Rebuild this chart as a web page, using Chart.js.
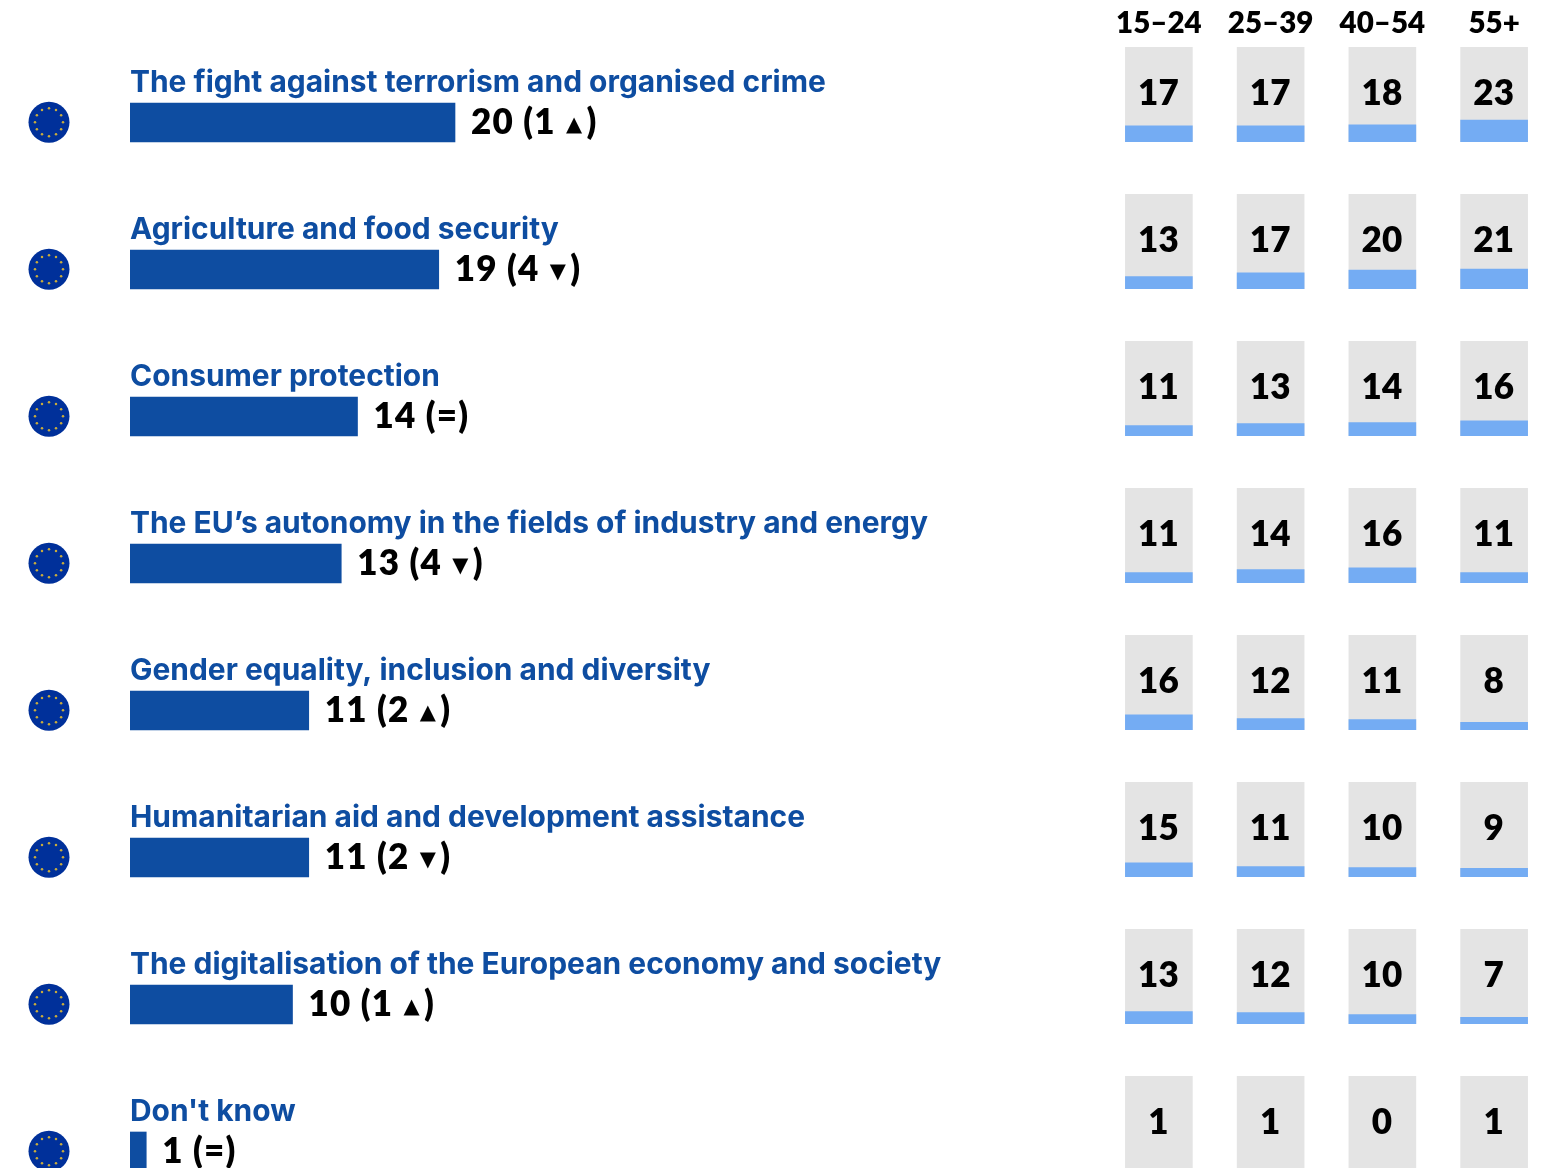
<!DOCTYPE html>
<html><head><meta charset="utf-8">
<style>
html,body{margin:0;padding:0;width:1542px;height:1168px;overflow:hidden;background:#fff}
canvas{position:absolute;display:block}
#wrap{position:relative;width:1542px;height:1168px;overflow:hidden}
</style>
<script src="https://cdn.jsdelivr.net/npm/chart.js@4"></script>
</head><body><div id="wrap"></div>
<script>
const categories=["The fight against terrorism and organised crime","Agriculture and food security","Consumer protection","The EU’s autonomy in the fields of industry and energy","Gender equality, inclusion and diversity","Humanitarian aid and development assistance","The digitalisation of the European economy and society","Don't know"];
const totals=[20,19,14,13,11,11,10,1];
const changes=[1,4,null,4,2,2,1,null];
const directions=["▲","▼","=","▼","▲","▼","▲","="];
const ageGroups=["15–24","25–39","40–54","55+"];
const age1524=[17,13,11,11,16,15,13,1];
const age2539=[17,17,13,14,12,11,12,1];
const age4054=[18,20,14,16,11,10,10,0];
const age55=[23,21,16,11,8,9,7,1];
const full=[100,100,100,100];
const TITLE='Inter, sans-serif', NUM='Lato, sans-serif';
const BLUE='#0e4da1',LIGHT='#74acf3',GREY='#e4e4e4';
Chart.defaults.animation=false;
Chart.defaults.font.family=NUM;
const wrap=document.getElementById('wrap');
function mk(l,t,w,h){const c=document.createElement('canvas');c.style.left=l+'px';c.style.top=t+'px';c.style.width=w+'px';c.style.height=h+'px';c.width=w;c.height=h;wrap.appendChild(c);return c;}

const rowDeco={id:'rowDeco',afterDatasetsDraw(ch){
  const c=ch.ctx,xs=ch.scales.x,ys=ch.scales.y;
  categories.forEach((lab,i)=>{
    const y=ys.getPixelForValue(i);
    c.save();
    const fx=49,fy=y-0.3;
    c.fillStyle='#00309a';c.beginPath();c.arc(fx,fy,20.5,0,Math.PI*2);c.fill();
    c.fillStyle='#c9ac3c';
    for(let k=0;k<12;k++){const a=k*Math.PI/6;c.beginPath();c.arc(fx+14*Math.cos(a),fy+14*Math.sin(a),1.25,0,Math.PI*2);c.fill();}
    c.textBaseline='alphabetic';c.textAlign='left';
    c.font='700 29.95px '+TITLE;c.fillStyle=BLUE;
    c.fillText(lab,xs.getPixelForValue(0),y-30.5);
    let x=xs.getPixelForValue(totals[i])+16;
    c.fillStyle='#000';
    const big='800 35px '+NUM, small='700 21px "DejaVu Sans"';
    const tb=y+11;
    c.letterSpacing='1.2px';
    c.font=big;
    let s=totals[i]+' (';
    if(changes[i]===null) s+='=)';
    else s+=changes[i]+' ';
    c.fillText(s,x,tb);x+=c.measureText(s).width;
    if(changes[i]!==null){
      c.font=small;c.fillText(directions[i],x+1,tb-3);x+=c.measureText(directions[i]).width+4;
      c.font=big;c.fillText(')',x,tb);
    }
    c.restore();
  });
}};
new Chart(mk(0,49,1105,1176),{type:'bar',
  data:{labels:categories,datasets:[{data:totals,backgroundColor:BLUE,barThickness:39,borderWidth:0}]},
  options:{indexAxis:'y',responsive:false,maintainAspectRatio:false,
    layout:{padding:{left:130,top:0,right:0,bottom:0}},
    plugins:{legend:{display:false},tooltip:{enabled:false}},
    scales:{x:{display:false,min:0,max:60},y:{display:false}}},
  plugins:[rowDeco]});

const miniLabels={id:'miniLabels',afterDatasetsDraw(ch){
  const c=ch.ctx,xs=ch.scales.x,ys=ch.scales.y,vals=ch.data.datasets[0].data;
  c.save();c.font='800 35px '+NUM;c.fillStyle='#000';c.textAlign='center';c.textBaseline='alphabetic';
  vals.forEach((v,i)=>c.fillText(v,xs.getPixelForValue(i)-0.5,ys.getPixelForValue(51)+11.5));
  c.restore();
}};
categories.forEach((_,r)=>{
  const vals=[age1524[r],age2539[r],age4054[r],age55[r]];
  const first=r===0;
  new Chart(first?mk(1103,0,447,142):mk(1103,47+147*r,447,95),{type:'bar',
    data:{labels:ageGroups,datasets:[
      {data:vals,backgroundColor:LIGHT,barThickness:67,borderWidth:0,grouped:false,order:1},
      {data:full,backgroundColor:GREY,barThickness:67,borderWidth:0,grouped:false,order:2}]},
    options:{responsive:false,maintainAspectRatio:false,layout:{padding:0},
      plugins:{legend:{display:false},tooltip:{enabled:false}},
      scales:{
        x:{display:first,position:'top',grid:{display:false,drawTicks:false},border:{display:false},
           afterFit(s){if(first)s.height=47;},
           ticks:{color:'#000',font:{family:NUM,weight:'800',size:29.5},padding:6,maxRotation:0,autoSkip:false}},
        y:{display:false,min:0,max:100}}},
    plugins:[miniLabels]});
});
</script></body></html>
